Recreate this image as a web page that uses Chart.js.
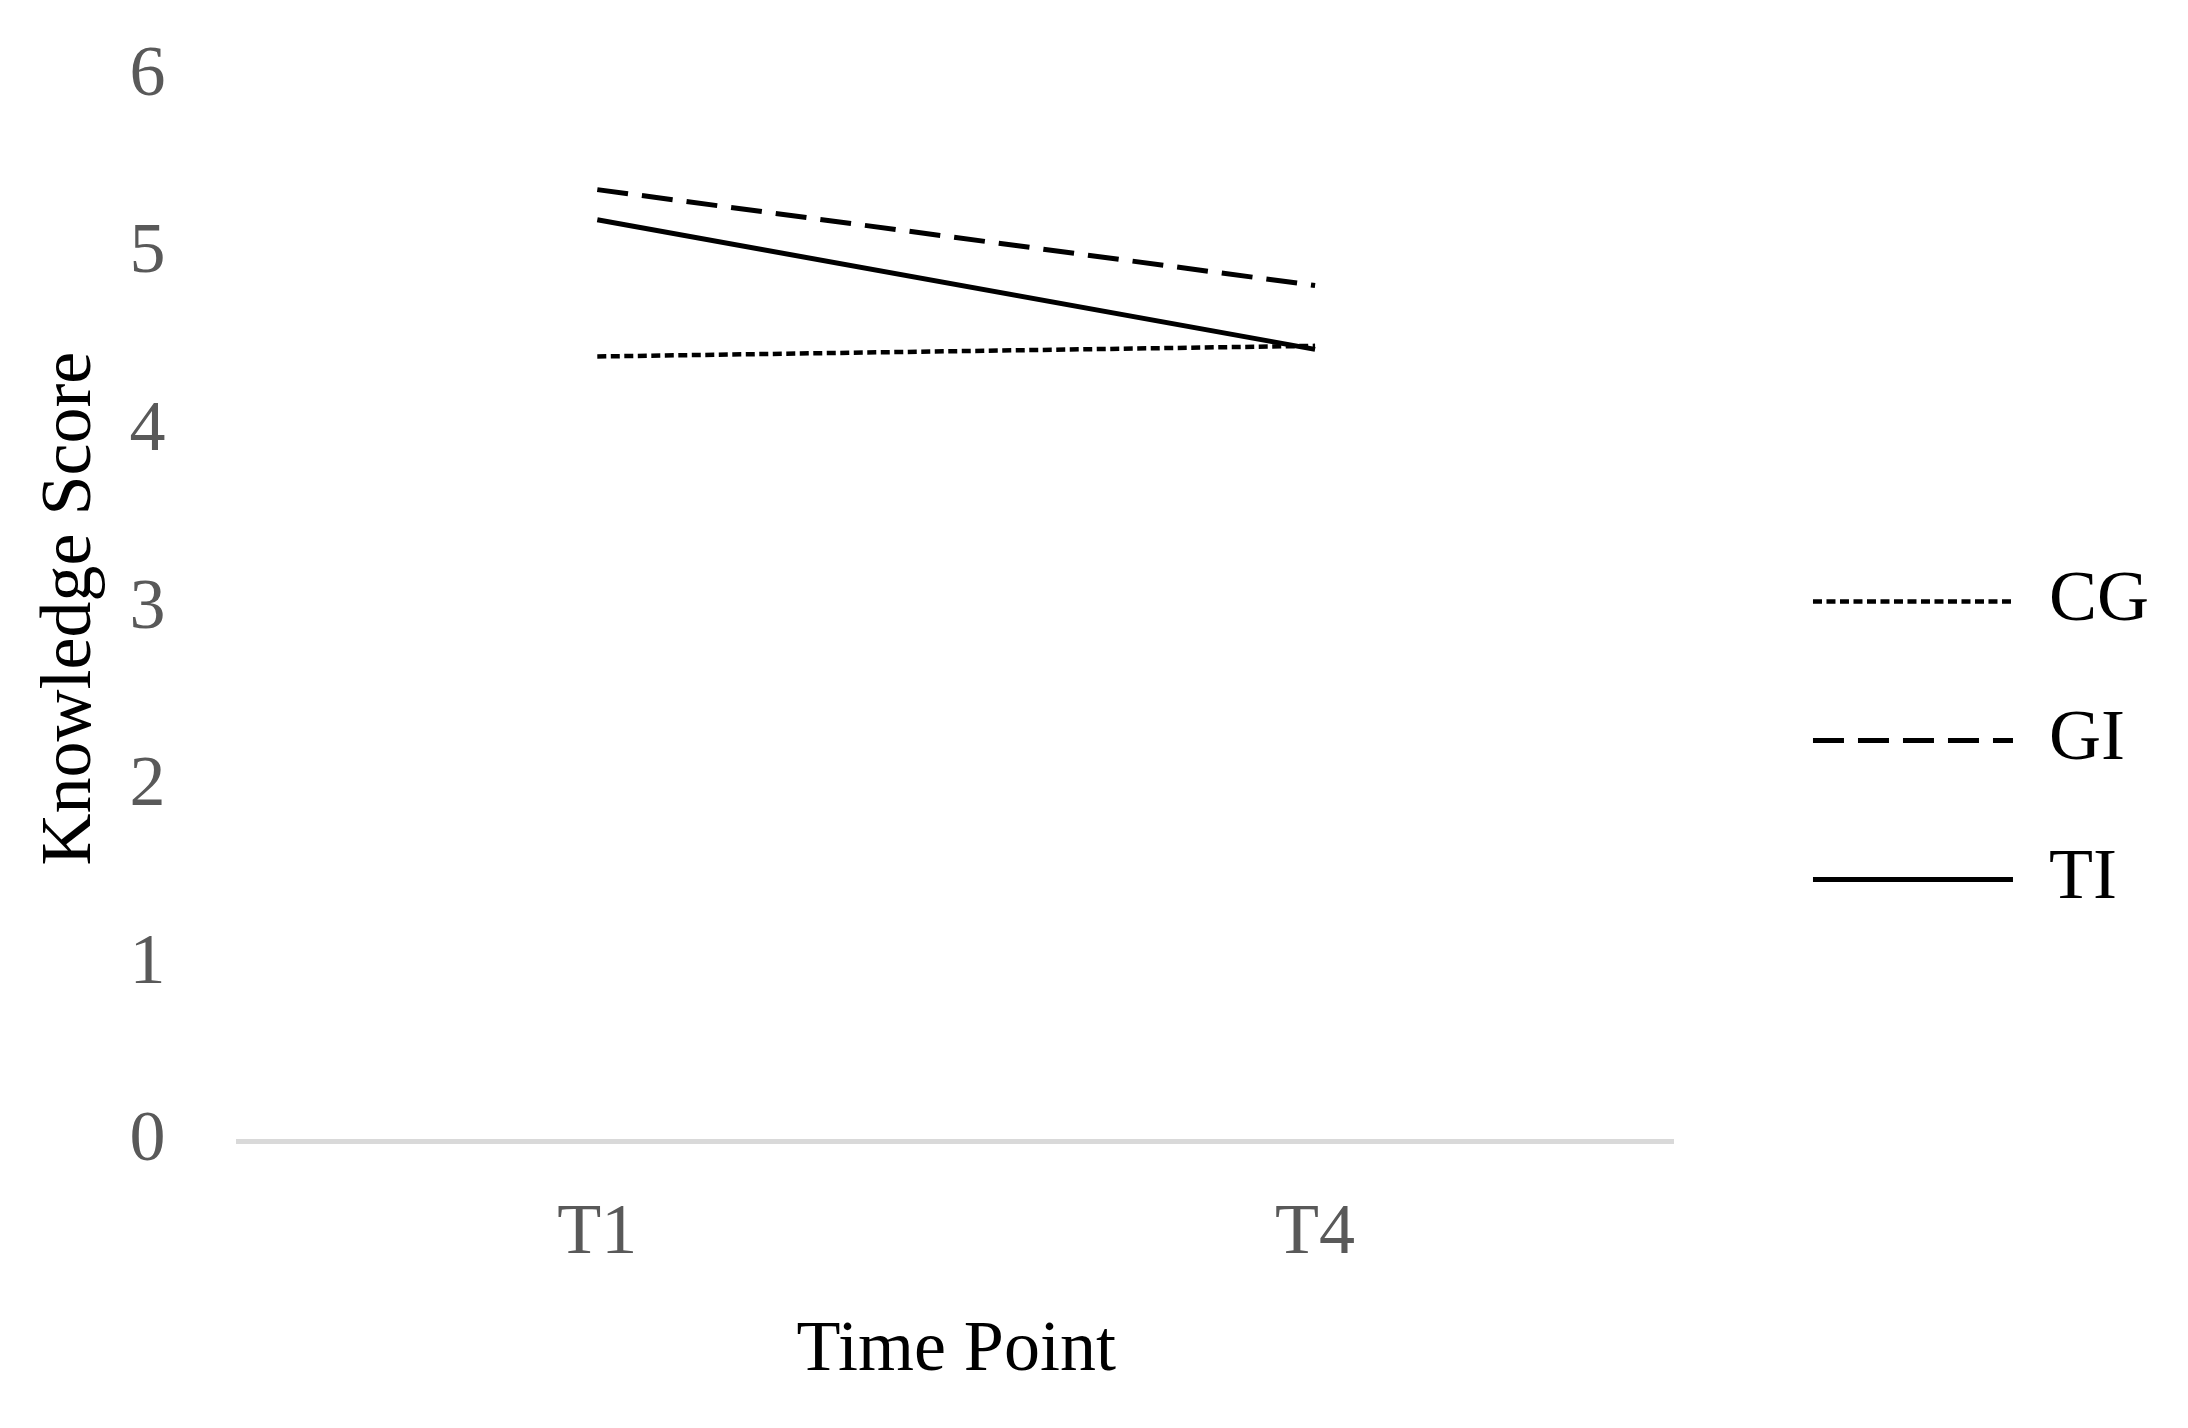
<!DOCTYPE html>
<html>
<head>
<meta charset="utf-8">
<script src="https://cdn.jsdelivr.net/npm/chart.js@4.4.0/dist/chart.umd.min.js"></script>
<style>
  html, body { margin: 0; padding: 0; background: #fff; }
  #wrap { width: 2188px; height: 1428px; }
</style>
</head>
<body>
<div id="wrap"><canvas id="knowledge-chart"></canvas></div>
<script>
const timePoints = ['T1', 'T4'];
const cgScores = [4.42, 4.48];
const giScores = [5.36, 4.82];
const tiScores = [5.19, 4.46];
const yTicks = [0, 1, 2, 3, 4, 5, 6];

Chart.defaults.font.family = "'Liberation Serif', 'Times New Roman', serif";
Chart.defaults.font.size = 72;

// keep row spacing of the legend but move it away from the plot
const legendGap = {
  id: 'legendGap',
  beforeInit(chart) {
    const fit = chart.legend.fit;
    chart.legend.fit = function () {
      fit.call(this);
      this.width += 72;
    };
  },
  afterLayout(chart) {
    chart.legend.left += 72;
  }
};

const ctx = document.getElementById('knowledge-chart');

new Chart(ctx, {
  type: 'line',
  data: {
    labels: timePoints,
    datasets: [
      { label: 'CG', data: cgScores, borderColor: '#000', borderWidth: 4.5, borderDash: [9, 4.5] },
      { label: 'GI', data: giScores, borderColor: '#000', borderWidth: 5, borderDash: [31, 14] },
      { label: 'TI', data: tiScores, borderColor: '#000', borderWidth: 5, borderDash: [] }
    ]
  },
  options: {
    responsive: true,
    maintainAspectRatio: false,
    animation: false,
    elements: { point: { radius: 0 }, line: { tension: 0 } },
    layout: { padding: { top: 76, right: 29, bottom: 23, left: 0 } },
    plugins: {
      tooltip: { enabled: false },
      legend: {
        position: 'right',
        labels: {
          usePointStyle: true,
          pointStyle: 'line',
          pointStyleWidth: 200,
          padding: 67,
          color: '#000',
          font: { size: 72 },
          generateLabels(chart) {
            // point style drops the dash, put it back from the dataset
            const items = Chart.defaults.plugins.legend.labels.generateLabels(chart);
            items.forEach(item => {
              const ds = chart.data.datasets[item.datasetIndex];
              item.lineDash = ds.borderDash;
              item.lineWidth = ds.borderWidth;
              item.strokeStyle = ds.borderColor;
            });
            return items;
          }
        }
      }
    },
    scales: {
      x: {
        offset: true,
        grid: { display: false, drawTicks: false },
        border: { display: true, color: '#d9d9d9', width: 5 },
        ticks: { color: '#595959', padding: 50, font: { size: 72 } },
        title: {
          display: true,
          text: 'Time Point',
          color: '#000',
          font: { size: 72 },
          padding: { top: -20, bottom: 11 }
        }
      },
      y: {
        min: 0,
        max: 6,
        grid: { display: false, drawTicks: false },
        border: { display: false },
        afterBuildTicks(scale) {
          scale.ticks = yTicks.map(v => ({ value: v }));
        },
        afterFit(scale) {
          // top/bottom room comes from layout padding
          scale.paddingTop = 0;
          scale.paddingBottom = 0;
        },
        ticks: { color: '#595959', padding: 73, font: { size: 72 } },
        title: {
          display: true,
          text: 'Knowledge Score',
          color: '#000',
          font: { size: 72 },
          padding: { top: 28, bottom: -58 }
        }
      }
    }
  },
  plugins: [legendGap]
});
</script>
</body>
</html>
